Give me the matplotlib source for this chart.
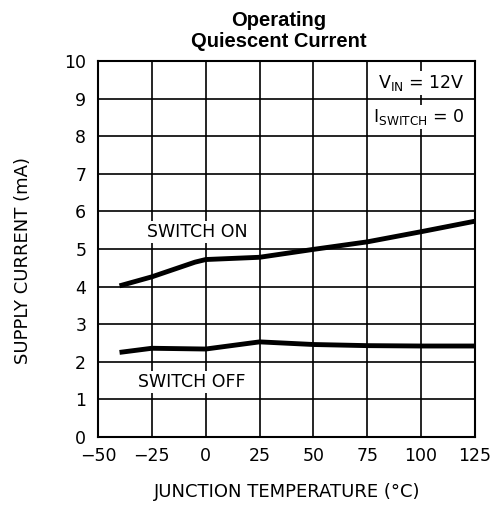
import matplotlib
matplotlib.use("Agg")
from matplotlib import pyplot as plt

plt.rcParams['font.family'] = ['DejaVu Sans']
plt.rcParams['mathtext.fontset'] = 'dejavusans'

# junction temperature (C) vs supply current (mA)
tempOn = [-40, -25, -5, 0, 25, 50, 75, 100, 125]
currentOn = [4.02, 4.26, 4.65, 4.72, 4.78, 4.99, 5.19, 5.46, 5.74]

tempOff = [-40, -25, 0, 25, 50, 75, 100, 125]
currentOff = [2.25, 2.36, 2.34, 2.53, 2.46, 2.43, 2.42, 2.42]

xTicks = [-50, -25, 0, 25, 50, 75, 100, 125]
yTicks = list(range(0, 11))

fig = plt.figure(figsize=(4.96, 5.14), dpi=100)
ax = fig.add_axes([0.1976, 0.1498, 0.760, 0.7315])

ax.plot(tempOn, currentOn, color="black", linewidth=3.5, solid_capstyle="butt", zorder=3)
ax.plot(tempOff, currentOff, color="black", linewidth=3.5, solid_capstyle="butt", zorder=3)

ax.set_xlim(-50, 125)
ax.set_ylim(0, 10)
ax.set_xticks(xTicks)
ax.set_yticks(yTicks)
ax.set_xticklabels([str(t).replace("-", "\u2212") for t in xTicks])
ax.tick_params(length=0, labelsize=12.5, pad=8.5)
ax.tick_params(axis="x", pad=7)
ax.grid(True, color="black", linewidth=1.2)
for s in ax.spines.values():
    s.set_linewidth(1.5)

box = dict(facecolor="white", edgecolor="none", pad=1.5)
ax.text(-27.4, 5.32, "SWITCH ON", fontsize=12.5, va="baseline", ha="left", bbox=box, zorder=4)
ax.text(-31.4, 1.33, "SWITCH OFF", fontsize=12.5, va="baseline", ha="left", bbox=box, zorder=4)
ax.text(120.2, 9.28, "V$_\\mathregular{IN}$ = 12V", fontsize=12.5, va="baseline", ha="right",
        bbox=box, zorder=4)
ax.text(120.2, 8.38, "I$_\\mathregular{SWITCH}$ = 0", fontsize=12.5, va="baseline", ha="right",
        bbox=box, zorder=4)

fig.text(279 / 496, 1 - 26 / 514, "Operating", fontsize=14.5, fontweight="bold",
         family="Liberation Sans", ha="center", va="baseline")
fig.text(279 / 496, 1 - 47 / 514, "Quiescent Current", fontsize=14.5, fontweight="bold",
         family="Liberation Sans", ha="center", va="baseline")
fig.text(23.5 / 496, 1 - 260 / 514, "SUPPLY CURRENT (mA)", fontsize=13, rotation=90,
         ha="center", va="center")
fig.text(287.5 / 496, 1 - 497 / 514, "JUNCTION TEMPERATURE (\u00b0C)", fontsize=13,
         ha="center", va="baseline")

fig.savefig("out.png", dpi=100)
